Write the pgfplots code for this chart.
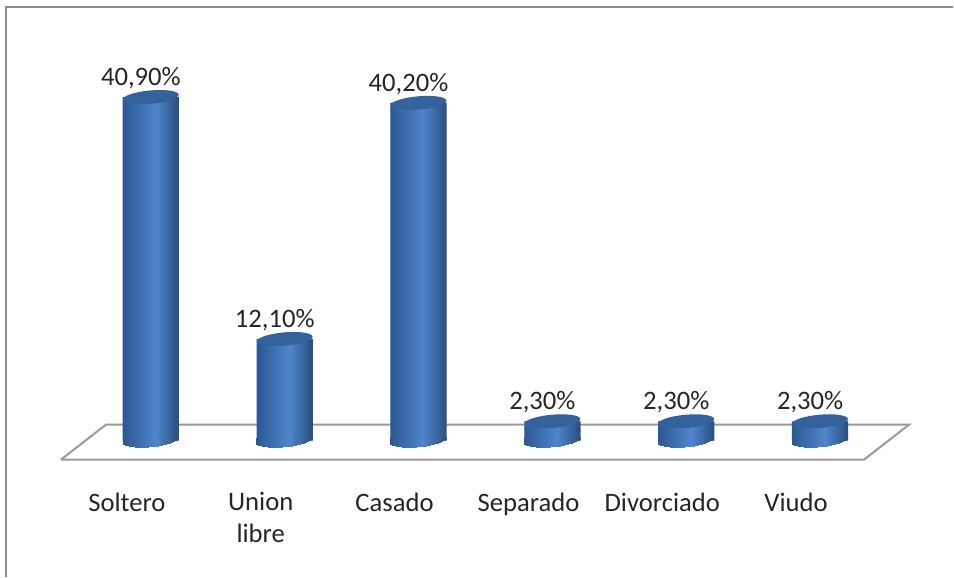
\documentclass[border=0pt]{standalone}
\usepackage{fontspec}
\setmainfont{Carlito}
\usepackage{pgfplots}
\usepackage{pgfplotstable}
\pgfplotsset{compat=1.18}
\definecolor{capdark}{HTML}{34629C}
\definecolor{floorline}{HTML}{9A9A9A}
\definecolor{framegray}{HTML}{8C8C8C}
\definecolor{cylleft}{HTML}{2C5892}
\definecolor{cylmid}{HTML}{4F86CC}
\definecolor{cylright}{HTML}{2A4F80}
\definecolor{cylbase}{HTML}{3D6DAD}
% one colour for each of the 28 vertical strips of a cylinder
\foreach \k in {0,...,27}{%
  \pgfmathsetmacro{\t}{(\k+0.5)/28}%
  \pgfmathtruncatemacro{\w}{\t<0.6 ? 100*(\t/0.6) : 100*((1-\t)/0.4)}%
  \pgfmathtruncatemacro{\side}{\t<0.6 ? 0 : 1}%
  \ifnum\side=0
    \xglobal\colorlet{strip\k}{cylmid!\w!cylleft}%
  \else
    \xglobal\colorlet{strip\k}{cylmid!\w!cylright}%
  \fi
}
\pgfdeclareplotmark{captop}{%
  \pgfpathellipse{\pgfpointorigin}{\pgfpointpolar{5}{21pt}}{\pgfpointpolar{95}{5pt}}%
  \pgfusepathqfill}
\pgfdeclareplotmark{capbottom}{%
  \foreach \k in {0,...,27}{%
    \pgfmathsetmacro{\s}{(\k-13.5)*1.5}%
    \pgfmathsetmacro{\yb}{\s*tan(5)-5*sqrt(max(0,1-(\s/21)^2))}%
    \pgfsetfillcolor{strip\k}%
    \pgfpathrectanglecorners{\pgfpoint{\s pt-0.95pt}{2pt}}{\pgfpoint{\s pt+0.95pt}{\yb pt}}%
    \pgfusepathqfill
  }}
\pgfplotstableread{
x y base
0 40.9 0
1 12.1 0
2 40.2 0
3 2.3 0
4 2.3 0
5 2.3 0
}\datatable
\begin{document}
\begin{tikzpicture}
\begin{axis}[
  scale only axis,
  width=715.5pt, height=432.75pt,
  xmin=-1.127, xmax=5.993,
  ymin=-16.17, ymax=52.44,
  clip=false,
  axis line style={draw=none},
  major tick length=0pt,
  ytick=\empty,
  xtick={0,1,2,3,4,5},
  xticklabels={Soltero,{Union\\libre},Casado,Separado,Divorciado,Viudo},
  x tick label style={font=\fontsize{20}{24}\selectfont, align=center, anchor=north,
    inner sep=0pt, xshift=-18pt, yshift=63.25pt, text=black!85},
  every node near coord/.style={anchor=base, inner sep=0pt, xshift=-7.5pt, yshift=8.9pt,
    font=\fontsize{20}{24}\selectfont, text=black!85},
]
% frame
\addplot[framegray, line width=1.5pt, forget plot] coordinates {(-1.08,-16.17) (-1.08,51.6) (5.993,51.6)};
% floor
\addplot[floorline, line width=1.5pt, forget plot] coordinates {(-0.672,-2.26) (-0.336,1.90) (5.664,1.90) (5.328,-2.26) (-0.672,-2.26)};
% cylinders
\addplot[ybar, bar shift=0pt, bar width=41.4pt, draw=none, fill=cylbase, forget plot] table[x=x, y=y] {\datatable};
\pgfplotsinvokeforeach{0,...,27}{
  \addplot[ybar, bar shift={(#1-13.5)*1.5pt}, bar width=1.7pt, draw=none, fill=strip#1, forget plot] table[x=x, y=y] {\datatable};
}
\addplot[only marks, mark=capbottom, forget plot] table[x=x, y=base] {\datatable};
\addplot[only marks, mark=captop, mark options={fill=capdark, draw=none},
  nodes near coords={\pgfmathprintnumber[use comma, fixed, fixed zerofill, precision=2, assume math mode=true]{\pgfplotspointmeta}\%},
  point meta=y] table[x=x, y=y] {\datatable};
\end{axis}
\end{tikzpicture}
\end{document}
